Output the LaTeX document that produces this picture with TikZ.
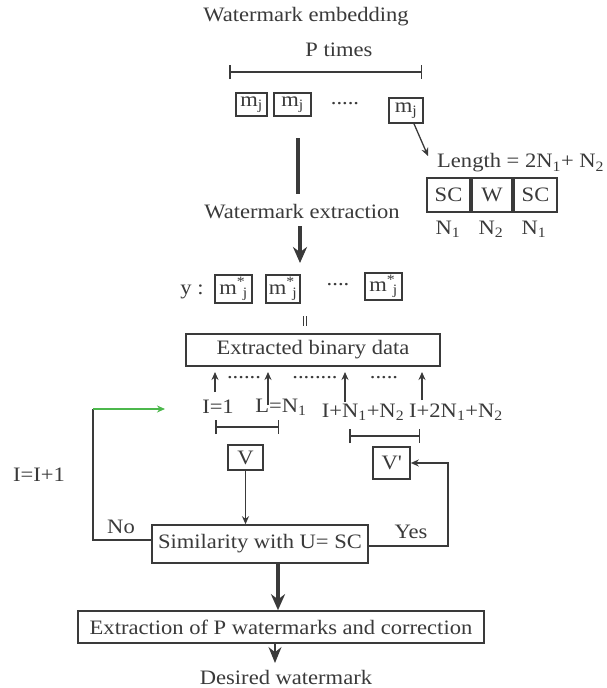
\documentclass[tikz,border=0pt]{standalone}
\usepackage{fontspec}
\setmainfont[FakeStretch=1.1]{Liberation Serif}
\usetikzlibrary{arrows.meta}
\definecolor{ink}{HTML}{3A3A3A}
\definecolor{grn}{HTML}{4CB84C}
\newcommand{\mstar}{m\textsuperscript{*}\kern-2.5pt\textsubscript{j}}
\tikzset{
  txt/.style={inner sep=0pt, text=ink, font=\fontsize{20.5}{22}\selectfont},
  bx/.style={draw=ink, line width=1.6pt, inner sep=0pt, text=ink, font=\fontsize{20.5}{22}\selectfont},
  ln/.style={draw=ink, line width=1.3pt},
  arr/.style={ln, -{Stealth[length=8pt,width=7pt]}},
  thick arr/.style={draw=ink, line width=4pt, -{Stealth[length=16pt,width=14pt]}},
  brk/.style={draw=ink, line width=1.5pt, {Bar[width=14pt]}-{Bar[width=14pt]}},
}
\begin{document}
\begin{tikzpicture}[x=1pt,y=-1pt]
\useasboundingbox[fill=white] (0,0) rectangle (607,688);
% top
\node[txt] (emb) at (306,17) {Watermark embedding};
\node[txt] (ptimes) at (339,50) {P times};
\coordinate (pb1) at (229,72); \coordinate (pb2) at (422,72);
\draw[brk] (pb1) -- (pb2);
\node[bx, minimum width=31pt, minimum height=23pt] (m1) at (251.5,104.5) {m\textsubscript{j}};
\node[bx, minimum width=37pt, minimum height=23pt] (m2) at (292.5,104.5) {m\textsubscript{j}};
\node[txt] (mdots) at (345,104) {.....};
\node[bx, minimum width=34pt, minimum height=25pt] (m3) at (406,110.5) {m\textsubscript{j}};
\coordinate (lenarr) at (428,156);
\draw[arr] (m3.south) ++(8,0) coordinate (m3b) -- (lenarr);
% length
\node[txt, anchor=west] (len) at (437,163) {Length = 2N\textsubscript{1}+ N\textsubscript{2}};
\node[bx, minimum width=43pt, minimum height=34pt] (sc1) at (448.5,195) {SC};
\node[bx, minimum width=40pt, minimum height=34pt] (w) at (492,195) {W};
\node[bx, minimum width=43pt, minimum height=34pt] (sc2) at (535.5,195) {SC};
\node[txt] (n1a) at (448,229) {N\textsubscript{1}};
\node[txt] (n2) at (491,229) {N\textsubscript{2}};
\node[txt] (n1b) at (534,229) {N\textsubscript{1}};
% extraction arrow
\coordinate (tl1) at (298,138); \coordinate (tl2) at (298,194);
\draw[draw=ink, line width=4pt] (tl1) -- (tl2);
\node[txt] (ext) at (302,212) {Watermark extraction};
\coordinate (ta1) at (300,226); \coordinate (ta2) at (300,263);
\draw[thick arr] (ta1) -- (ta2);
% y row
\node[txt] (ylab) at (192,292) {y :};
\node[bx, minimum width=37pt, minimum height=28pt] (y1) at (233.5,289) {\mstar};
\node[bx, minimum width=34pt, minimum height=28pt] (y2) at (283,289) {\mstar};
\node[txt] (ydots) at (338,285) {....};
\node[bx, minimum width=37pt, minimum height=27pt] (y3) at (383.5,286.5) {\mstar};
\coordinate (pa1) at (303.5,316); \coordinate (pa2) at (303.5,326);
\coordinate (pb3) at (306.5,316); \coordinate (pb4) at (306.5,326);
\draw[draw=ink, line width=0.9pt] (pa1) -- (pa2) (pb3) -- (pb4);
% extracted binary data
\node[bx, minimum width=254pt, minimum height=32pt] (ebd) at (313,350) {Extracted binary data};
\coordinate (a1s) at (215,392); \coordinate (a1e) at (215,372);
\coordinate (a2s) at (268,405); \coordinate (a2e) at (268,372);
\coordinate (a3s) at (345,402); \coordinate (a3e) at (345,372);
\coordinate (a4s) at (422,400); \coordinate (a4e) at (422,372);
\draw[arr] (a1s) -- (a1e);
\draw[arr] (a2s) -- (a2e);
\draw[arr] (a3s) -- (a3e);
\draw[arr] (a4s) -- (a4e);
\node[txt] (d1) at (244,378) {......};
\node[txt] (d2) at (315,378) {........};
\node[txt] (d3) at (384,378) {.....};
\node[txt] (i1) at (218,407) {I=1};
\node[txt] (ln1) at (281,407) {L=N\textsubscript{1}};
\node[txt] (in1) at (363,412) {I+N\textsubscript{1}+N\textsubscript{2}};
\node[txt] (in2) at (456,412) {I+2N\textsubscript{1}+N\textsubscript{2}};
\coordinate (bk1) at (215,427); \coordinate (bk2) at (279,427);
\coordinate (bk3) at (349,436); \coordinate (bk4) at (420,436);
\draw[brk] (bk1) -- (bk2);
\draw[brk] (bk3) -- (bk4);
% V boxes
\node[bx, minimum width=35pt, minimum height=25pt] (v) at (245.5,457.5) {V};
\node[bx, minimum width=37pt, minimum height=32pt] (vp) at (391.5,463) {V\textquotesingle};
% similarity
\node[bx, minimum width=216pt, minimum height=38pt] (sim) at (260,544) {Similarity with U= SC};
\draw[arr] (v.south) -- (sim.north -| v.south);
% No loop
\coordinate (nl) at (93,540);
\coordinate (gtop) at (93,409);
\coordinate (gend) at (165,409);
\draw[ln] (sim.west |- nl) -- (nl) -- (gtop);
\draw[draw=grn, line width=1.5pt, -{Stealth[length=8pt,width=7pt]}] (gtop) -- (gend);
\node[txt] (no) at (121,527) {No};
\node[txt] (inc) at (39,475) {I=I+1};
% Yes loop
\coordinate (yr) at (448,546);
\draw[arr] (sim.east |- yr) -- (yr) |- (vp.east);
\node[txt] (yes) at (411,532) {Yes};
% bottom
\node[bx, minimum width=406pt, minimum height=32pt] (exc) at (281,627) {Extraction of P watermarks and correction};
\draw[thick arr] (sim.south -| 278,0) -- (exc.north -| 278,0);
\node[txt] (des) at (286,677) {Desired watermark};
\draw[draw=ink, line width=1.5pt, -{Stealth[length=16pt,width=13pt]}] (exc.south -| 275,0) -- (275,663);
\end{tikzpicture}
\end{document}
